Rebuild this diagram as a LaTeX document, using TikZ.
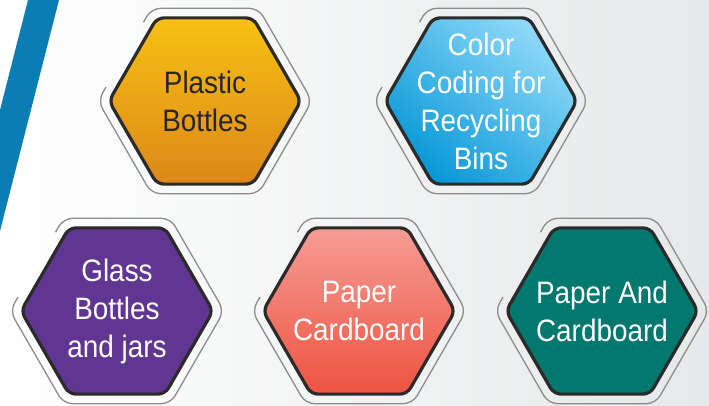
\documentclass[tikz,border=0pt]{standalone}
\usepackage{fontspec}
\setmainfont[FakeStretch=0.9]{Liberation Sans}
\usetikzlibrary{shapes.geometric, calc}
\definecolor{bgright}{HTML}{E6E8E9}
\definecolor{barblue}{HTML}{0B7DB5}
\definecolor{hexline}{HTML}{2B2B2B}
\definecolor{framegray}{HTML}{8C8C8C}
\definecolor{textdark}{HTML}{262626}
\definecolor{plastictop}{HTML}{F7C113}
\definecolor{plasticbot}{HTML}{DD8719}
\definecolor{bluelight}{HTML}{8FD9F8}
\definecolor{bluedeep}{HTML}{0898D7}
\definecolor{glasspurple}{HTML}{613692}
\definecolor{papertop}{HTML}{F59C95}
\definecolor{paperbot}{HTML}{EE5340}
\definecolor{cardteal}{HTML}{02786F}
\tikzset{hexa/.style={regular polygon,regular polygon sides=6,minimum size=192pt,inner sep=0pt,
                      draw=hexline,line width=3.2pt,rounded corners=7pt},
         hexlabel/.style={align=center,text=white,font=\fontsize{31}{38}\selectfont},
         hexframe/.style={draw=framegray,line width=1.3pt,rounded corners=9pt}}

\begin{document}
\begin{tikzpicture}[x=1pt,y=1pt]
        \useasboundingbox (0,0) rectangle (709,405);
        \shade[left color=white,right color=bgright] (0,0) rectangle (709,405);
        \fill[barblue] (28,405) -- (59,405) -- (0,174) -- (0,295) -- cycle;
        \node[hexa,top color=plastictop,bottom color=plasticbot](plastic)at(205,304){};
        \node[hexa,top color=bluelight,bottom color=bluedeep,shading angle=-40](coding)at(481,304){};
        \node[hexa,fill=glasspurple](glass)at(117,94){};
        \node[hexa,top color=papertop,bottom color=paperbot](paper)at(359,94){};
        \node[hexa,fill=cardteal](card)at(602,94){};
        \node[hexlabel,text=textdark](plastictxt)at(plastic){Plastic\\Bottles};
        \node[hexlabel](codingtxt)at(coding){Color\\Coding for\\Recycling\\Bins};
        \node[hexlabel](glasstxt)at(glass){Glass\\Bottles\\and jars};
        \node[hexlabel](papertxt)at(paper){Paper\\Cardboard};
        \node[hexlabel](cardtxt)at(card){Paper And\\Cardboard};
        \foreach \h in {plastic,coding,glass,paper,card}
            \draw[hexframe,shift={(\h)}]($(180:107)!0.15!(120:107)$)--(180:107)--(240:107)--(300:107)
                --(0:107)--(60:107)--(120:107)--($(120:107)!0.15!(180:107)$);
    \end{tikzpicture}
\end{document}
